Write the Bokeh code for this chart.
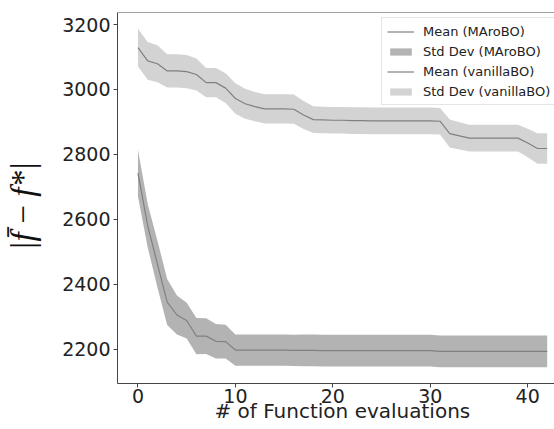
from bokeh.plotting import figure
from bokeh.models import Range1d, Span, Legend, LegendItem, FixedTicker
from bokeh.embed import file_html
from bokeh.resources import INLINE
import numpy as np

evals = list(range(43))

maro_mean = [2742, 2580, 2462, 2345, 2305, 2288, 2240, 2240, 2224, 2223,
             2197, 2197, 2197, 2197, 2197, 2197, 2196, 2196, 2196, 2195,
             2195, 2195, 2195, 2195, 2195, 2195, 2195, 2195, 2195, 2195,
             2195, 2193, 2193, 2193, 2193, 2193, 2193, 2193, 2193, 2193,
             2193, 2193, 2193]
maro_std = [72, 67, 72, 71, 60, 55, 56, 55, 53, 52,
            48, 48, 48, 48, 48, 48, 48, 49, 49, 49,
            49, 49, 49, 49, 49, 49, 49, 49, 49, 49,
            49, 49, 49, 49, 49, 49, 49, 49, 49, 49,
            49, 49, 49]

van_mean = [3129, 3088, 3079, 3057, 3057, 3055, 3046, 3021, 3021, 3004,
            2972, 2956, 2947, 2940, 2940, 2940, 2939, 2921, 2907, 2906,
            2905, 2905, 2904, 2904, 2903, 2903, 2903, 2903, 2903, 2903,
            2903, 2902, 2864, 2857, 2850, 2850, 2850, 2850, 2850, 2850,
            2835, 2818, 2818]
van_std = [58, 58, 57, 51, 51, 51, 49, 45, 45, 46,
           47, 46, 45, 45, 45, 45, 45, 43, 41, 41,
           41, 41, 41, 41, 41, 41, 41, 41, 41, 41,
           41, 41, 43, 42, 41, 41, 41, 41, 41, 41,
           44, 47, 47]

x_ticks = [0, 10, 20, 30, 40]
y_ticks = [2200, 2400, 2600, 2800, 3000, 3200]
x_label = "# of Function evaluations"
y_label = "|f\u0304\u2009\u2212\u2009f*|"

Y0, Y1 = 2094, 3237

p = figure(width=554, height=429, output_backend="svg", toolbar_location=None,
           x_range=Range1d(-2.1, 42.75), y_range=Range1d(Y0, Y1),
           min_border_left=117, min_border_right=0, min_border_top=12, min_border_bottom=46)
p.outline_line_color = None
p.xgrid.visible = False
p.ygrid.visible = False
p.background_fill_color = "white"

x = np.array(evals)
mm = np.array(maro_mean); ms = np.array(maro_std)
vm = np.array(van_mean); vs = np.array(van_std)

band1 = p.varea(x=x, y1=mm - ms, y2=mm + ms, fill_color="#b3b3b3")
band2 = p.varea(x=x, y1=vm - vs, y2=vm + vs, fill_color="#d3d3d3")
line1 = p.line(x, mm, line_color="#808080", line_width=1.2)
line2 = p.line(x, vm, line_color="#808080", line_width=1.2)

p.add_layout(Span(location=Y1, dimension="width", line_color="#444", line_width=1))

for ax in (p.xaxis[0], p.yaxis[0]):
    ax.axis_line_color = "#444"
    ax.major_tick_line_color = "#444"
    ax.minor_tick_line_color = None
    ax.major_tick_out = 4
    ax.major_tick_in = 0
    ax.major_label_text_font = "DejaVu Sans"
    ax.major_label_text_font_size = "19px"
    ax.major_label_text_color = "#222"

p.xaxis.ticker = FixedTicker(ticks=x_ticks)
p.yaxis.ticker = FixedTicker(ticks=y_ticks)
p.xaxis.major_label_standoff = 1
p.yaxis.major_label_standoff = 3

p.xaxis.axis_label = "\u00a0\u00a0" + x_label
p.xaxis.axis_label_text_font = "DejaVu Sans"
p.xaxis.axis_label_text_font_size = "20px"
p.xaxis.axis_label_text_font_style = "normal"
p.xaxis.axis_label_text_color = "#222"
p.xaxis.axis_label_standoff = -7

p.yaxis.axis_label = y_label + "\u00a0\u00a0"
p.yaxis.axis_label_text_font = "Liberation Serif"
p.yaxis.axis_label_text_font_size = "33px"
p.yaxis.axis_label_text_font_style = "italic"
p.yaxis.axis_label_text_color = "#111"
p.yaxis.axis_label_standoff = 18

legend = Legend(items=[
    LegendItem(label="Mean (MAroBO)", renderers=[line1]),
    LegendItem(label="Std Dev (MAroBO)", renderers=[band1]),
    LegendItem(label="Mean (vanillaBO)", renderers=[line2]),
    LegendItem(label="Std Dev (vanillaBO)", renderers=[band2]),
], location=(264, 278))
legend.label_text_font = "DejaVu Sans"
legend.label_text_font_size = "13px"
legend.label_text_color = "#222"
legend.glyph_width = 27
legend.glyph_height = 9
legend.label_height = 16
legend.spacing = 4
legend.padding = 5
legend.margin = 0
legend.label_standoff = 9
legend.border_line_color = "#cccccc"
legend.border_line_width = 1
legend.background_fill_color = "white"
legend.background_fill_alpha = 0.8
p.add_layout(legend)

open("out.html", "w").write(file_html(p, INLINE))
